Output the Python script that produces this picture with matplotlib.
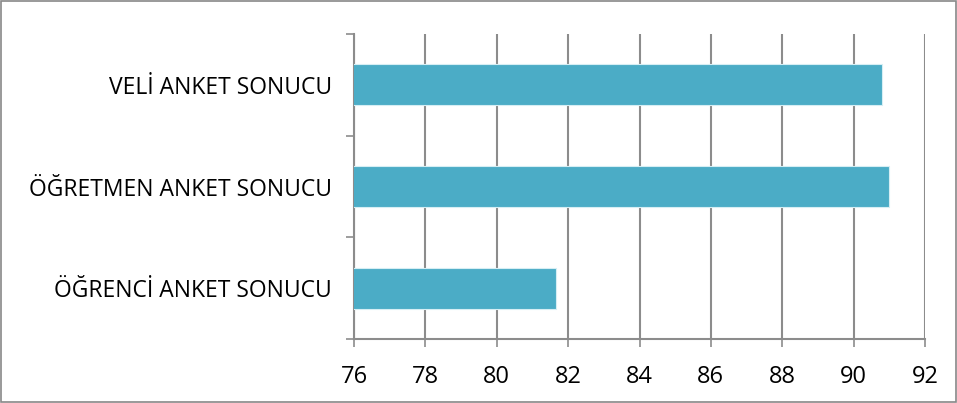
import matplotlib.pyplot as plt
from matplotlib.patches import Rectangle

# survey results
categories = ["ÖĞRENCİ ANKET SONUCU", "ÖĞRETMEN ANKET SONUCU", "VELİ ANKET SONUCU"]
values = [81.67, 91.0, 90.8]
xticks = [76, 78, 80, 82, 84, 86, 88, 90, 92]

grid_col = '#8c8c8c'
bar_col = '#4bacc6'

plt.rcParams['font.family'] = ['Open Sans', 'DejaVu Sans']

fig = plt.figure(figsize=(9.57, 4.03), dpi=100)
ax = fig.add_axes([354 / 957, 1 - 339 / 403, (925 - 354) / 957, (339 - 34) / 403])

ypos = list(range(len(categories)))
ax.barh(ypos, values, height=0.4, left=0, color=bar_col, edgecolor='#d6eef4', linewidth=0.8, zorder=3)

ax.set_xlim(76, 92)
ax.set_ylim(-0.5, len(categories) - 0.5)
ax.set_xticks(xticks)
ax.set_xticklabels([str(t) for t in xticks], fontsize=17)
ax.set_yticks(ypos)
ax.set_yticklabels(categories, fontsize=16.5)
ax.tick_params(axis='y', length=0, pad=16)
ax.set_yticks([-0.5, 0.5, 1.5, 2.5], minor=True)
ax.tick_params(axis='y', which='minor', length=6, width=1.2, color=grid_col, direction='out')
ax.tick_params(axis='x', length=6, width=1.2, color=grid_col, direction='out', pad=13)

ax.grid(axis='x', color=grid_col, linewidth=1.5, zorder=0)
for s in ['top', 'right']:
    ax.spines[s].set_visible(False)
for s in ['left', 'bottom']:
    ax.spines[s].set_color(grid_col)
    ax.spines[s].set_linewidth(1.5)

fig.patches.append(Rectangle((0.001, 0.002), 0.998, 0.996, transform=fig.transFigure,
                             fill=False, edgecolor='#888888', linewidth=1.2))

fig.savefig('out.png', dpi=100)
